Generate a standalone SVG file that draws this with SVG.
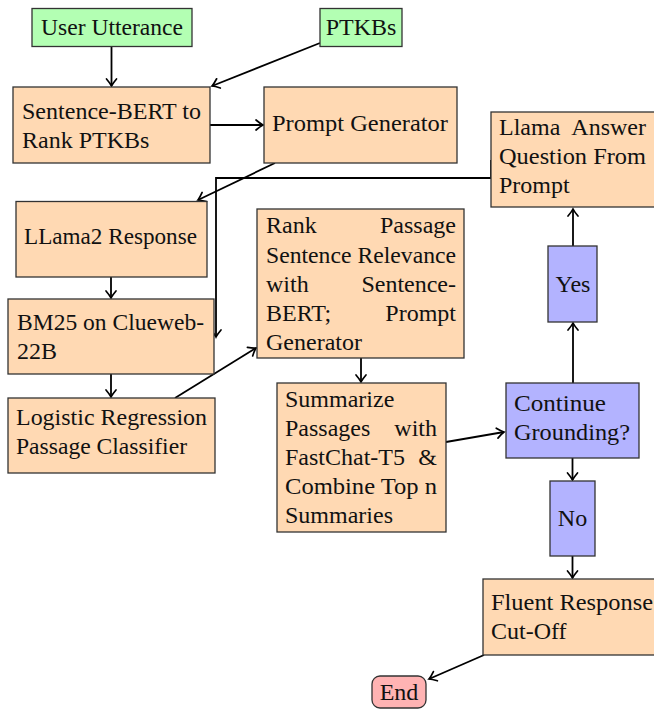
<svg xmlns="http://www.w3.org/2000/svg" width="654" height="709" viewBox="0 0 654 709">
<style>
text{font-size:24px;fill:#111}
.c{text-anchor:middle}
.e{text-anchor:end}
.p{fill:#ffd9b3;stroke:#333;stroke-width:1.3}
.g{fill:#b3ffb3;stroke:#333;stroke-width:1.3}
.b{fill:#b3b3ff;stroke:#333;stroke-width:1.3}
.r{fill:#ffb3b3;stroke:#333;stroke-width:1.3}
.l{fill:none;stroke:#000;stroke-width:1.8;marker-end:url(#ah)}
</style>
<defs>
<marker id="ah" markerUnits="userSpaceOnUse" markerWidth="14" markerHeight="14" orient="auto" refX="0" refY="0" overflow="visible">
<path d="M-7,-5 Q-2.5,-1.2 0,0 Q-2.5,1.2 -7,5" fill="none" stroke="#000" stroke-width="1.7" stroke-linecap="round"/>
</marker>
</defs>
<g id="connectors">
<path class="l" d="M111.5,47 L111.5,86"/>
<path class="l" d="M320,43 L212,86"/>
<path class="l" d="M210,125 L263,125"/>
<path class="l" d="M275,163 L198,200"/>
<path class="l" d="M491,160 L491,178 L216,178 L216,337"/>
<path class="l" d="M111,277 L111,298"/>
<path class="l" d="M111,374 L111,397"/>
<path class="l" d="M175,398 L256,348"/>
<path class="l" d="M361,358 L361,382"/>
<path class="l" d="M446,442 L504,432"/>
<path class="l" d="M573,383 L573,323"/>
<path class="l" d="M573,246 L573,209"/>
<path class="l" d="M572.5,458 L572.5,480"/>
<path class="l" d="M572.5,556 L572.5,578"/>
<path class="l" d="M484,655 L429,679"/>
</g>
<g id="user-utterance"><rect class="g" x="32" y="8.5" width="160" height="38"/><text font-family="Liberation Serif" x="41" y="35" textLength="142" lengthAdjust="spacingAndGlyphs">User Utterance</text></g>
<g id="ptkbs"><rect class="g" x="320" y="8.5" width="82" height="38"/><text font-family="Liberation Serif" class="c" x="361" y="35">PTKBs</text></g>
<g id="sbert-rank"><rect class="p" x="13" y="87" width="197" height="76"/><text font-family="Liberation Serif" x="22" y="119" textLength="179" lengthAdjust="spacingAndGlyphs">Sentence-BERT to</text><text font-family="Liberation Serif" x="22" y="148">Rank PTKBs</text></g>
<g id="prompt-gen"><rect class="p" x="264" y="87" width="193" height="76"/><text font-family="Liberation Serif" x="272" y="131" textLength="176" lengthAdjust="spacingAndGlyphs">Prompt Generator</text></g>
<g id="llama-answer"><rect class="p" x="491" y="112" width="175" height="95"/><text font-family="Liberation Serif" x="499" y="135">Llama</text><text font-family="Liberation Serif" class="e" x="646" y="135">Answer</text><text font-family="Liberation Serif" x="499" y="164" textLength="147" lengthAdjust="spacingAndGlyphs">Question From</text><text font-family="Liberation Serif" x="499" y="193">Prompt</text></g>
<g id="llama2-response"><rect class="p" x="16" y="201.5" width="191" height="75.5"/><text font-family="Liberation Serif" x="24" y="244" textLength="173" lengthAdjust="spacingAndGlyphs">LLama2 Response</text></g>
<g id="rank-passage"><rect class="p" x="257" y="209" width="207" height="149"/><text font-family="Liberation Serif" x="266" y="233">Rank</text><text font-family="Liberation Serif" class="e" x="456" y="233">Passage</text><text font-family="Liberation Serif" x="266" y="263" textLength="190" lengthAdjust="spacingAndGlyphs">Sentence Relevance</text><text font-family="Liberation Serif" x="266" y="292">with</text><text font-family="Liberation Serif" class="e" x="456" y="292">Sentence-</text><text font-family="Liberation Serif" x="266" y="321">BERT;</text><text font-family="Liberation Serif" class="e" x="456" y="321">Prompt</text><text font-family="Liberation Serif" x="266" y="350">Generator</text></g>
<g id="bm25"><rect class="p" x="8" y="299" width="206" height="75"/><text font-family="Liberation Serif" x="17" y="330" textLength="187" lengthAdjust="spacingAndGlyphs">BM25 on Clueweb-</text><text font-family="Liberation Serif" x="17" y="359">22B</text></g>
<g id="logistic"><rect class="p" x="8" y="398" width="207" height="75"/><text font-family="Liberation Serif" x="16" y="425" textLength="191" lengthAdjust="spacingAndGlyphs">Logistic Regression</text><text font-family="Liberation Serif" x="16" y="454" textLength="171" lengthAdjust="spacingAndGlyphs">Passage Classifier</text></g>
<g id="summarize"><rect class="p" x="277" y="383" width="169" height="149"/><text font-family="Liberation Serif" x="285" y="407">Summarize</text><text font-family="Liberation Serif" x="285" y="436">Passages</text><text font-family="Liberation Serif" class="e" x="437" y="436">with</text><text font-family="Liberation Serif" x="285" y="465">FastChat-T5</text><text font-family="Liberation Serif" class="e" x="437" y="465">&amp;</text><text font-family="Liberation Serif" x="285" y="494" textLength="152" lengthAdjust="spacingAndGlyphs">Combine Top n</text><text font-family="Liberation Serif" x="285" y="523">Summaries</text></g>
<g id="continue-grounding"><rect class="b" x="506" y="383" width="133" height="75"/><text font-family="Liberation Serif" x="514" y="411" textLength="92" lengthAdjust="spacingAndGlyphs">Continue</text><text font-family="Liberation Serif" x="514" y="440" textLength="116" lengthAdjust="spacingAndGlyphs">Grounding?</text></g>
<g id="yes"><rect class="b" x="548" y="246" width="49" height="76"/><text font-family="Liberation Serif" class="c" x="573" y="292">Yes</text></g>
<g id="no"><rect class="b" x="550" y="481" width="45" height="75"/><text font-family="Liberation Serif" class="c" x="572.5" y="526">No</text></g>
<g id="fluent"><rect class="p" x="483" y="579" width="180" height="76"/><text font-family="Liberation Serif" x="491" y="610" textLength="162" lengthAdjust="spacingAndGlyphs">Fluent Response</text><text font-family="Liberation Serif" x="491" y="639">Cut-Off</text></g>
<g id="end"><rect class="r" x="372" y="676" width="54" height="32" rx="8"/><text font-family="Liberation Serif" class="c" x="399" y="700">End</text></g>
</svg>
